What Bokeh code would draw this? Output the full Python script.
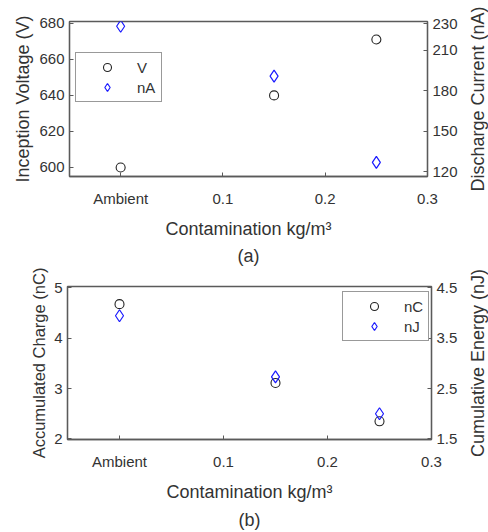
import math
from bokeh.plotting import figure
from bokeh.models import Range1d, LinearAxis, FixedTicker, Legend, LegendItem, Title
from bokeh.layouts import column, row
from bokeh.embed import file_html
from bokeh.resources import INLINE

# ---- data ----
contamination = [0.0, 0.15, 0.25]
x_ticks = [0.0, 0.1, 0.2, 0.3]
x_tick_labels = ["Ambient", "0.1", "0.2", "0.3"]

inception_voltage_V = [600, 640, 671]
discharge_current_nA = [228, 191, 127]
accumulated_charge_nC = [4.67, 3.11, 2.35]
cumulative_energy_nJ = [3.94, 2.73, 2.00]

va_ticks = [600, 620, 640, 660, 680]
ia_ticks = [120, 150, 180, 210, 230]
qb_ticks = [2, 3, 4, 5]
eb_ticks = [1.5, 2.5, 3.5, 4.5]

FONT = "Liberation Sans"
LINE = "#5a5a5a"
TXT = "#333333"
MAIN_W = 460
SIDE_W = 28


def style_axis(ax, ticks, label, overrides=None, label_size="18px"):
    ax.ticker = FixedTicker(ticks=ticks)
    if overrides:
        ax.major_label_overrides = overrides
    if label:
        ax.axis_label = label
    ax.axis_label_text_font = FONT
    ax.axis_label_text_font_size = label_size
    ax.axis_label_text_font_style = "normal"
    ax.axis_label_text_color = TXT
    ax.major_label_text_font = FONT
    ax.major_label_text_font_size = "15px"
    ax.major_label_text_color = TXT
    ax.axis_line_color = LINE
    ax.axis_line_width = 1.3
    ax.major_tick_line_color = LINE
    ax.major_tick_in = 4
    ax.major_tick_out = 0
    ax.minor_tick_line_color = None
    ax.major_label_standoff = 5
    ax.axis_label_standoff = 3


def side_label(height, text, bottom_border):
    # narrow strip whose (tick-less) left axis carries the right-hand title,
    # so that it reads bottom-to-top like the reference
    s = figure(width=SIDE_W, height=height, output_backend="svg", toolbar_location=None,
               x_range=Range1d(0, 1), y_range=Range1d(0, 1), x_axis_type=None,
               min_border_left=SIDE_W - 1, min_border_right=0, min_border_top=0,
               min_border_bottom=bottom_border)
    s.outline_line_color = None
    s.xgrid.visible = False
    s.ygrid.visible = False
    ax = s.yaxis[0]
    ax.ticker = FixedTicker(ticks=[])
    ax.axis_line_color = None
    ax.major_tick_line_color = None
    ax.minor_tick_line_color = None
    ax.axis_label = text
    ax.axis_label_text_font = FONT
    ax.axis_label_text_font_size = "18px"
    ax.axis_label_text_font_style = "normal"
    ax.axis_label_text_color = TXT
    ax.axis_label_standoff = 0
    return s


def make_panel(height, bl, br, bt, bb, yl, yr, yl_ticks, yr_ticks, ylab,
               left_vals, right_vals, left_name, right_name, caption, leg_loc,
               ylab_size, cap_standoff):
    p = figure(width=MAIN_W, height=height, output_backend="svg", toolbar_location=None,
               x_range=Range1d(-0.05, 0.3), y_range=Range1d(*yl),
               min_border_left=bl, min_border_right=br, min_border_top=bt,
               min_border_bottom=bb)
    p.extra_y_ranges = {"r": Range1d(*yr)}
    p.xgrid.visible = False
    p.ygrid.visible = False
    p.outline_line_color = LINE
    p.outline_line_width = 1.3
    p.background_fill_color = "white"
    p.border_fill_color = "white"

    xa = p.xaxis[0]
    style_axis(xa, x_ticks, "Contamination kg/m\u00b3",
               {x_ticks[i]: x_tick_labels[i] for i in range(len(x_ticks))})
    xa.major_label_standoff = 13
    xa.axis_label_standoff = 9
    style_axis(p.yaxis[0], yl_ticks, ylab, label_size=ylab_size)
    rax = LinearAxis(y_range_name="r")
    style_axis(rax, yr_ticks, None)
    p.add_layout(rax, "right")

    r1 = p.scatter(contamination, left_vals, marker="circle", size=9,
                   fill_color=None, line_color="#222222", line_width=1.1)
    r2 = p.scatter(contamination, right_vals, marker="diamond", size=12,
                   fill_color=None, line_color="#1a1aff", line_width=1.2,
                   y_range_name="r")

    leg = Legend(items=[LegendItem(label=left_name, renderers=[r1]),
                        LegendItem(label=right_name, renderers=[r2])],
                 location=leg_loc, orientation="vertical")
    leg.border_line_color = "#333333"
    leg.border_line_width = 1.3
    leg.background_fill_alpha = 1.0
    leg.padding = 4
    leg.spacing = 0
    leg.margin = 0
    leg.glyph_width = 54
    leg.glyph_height = 20
    leg.label_standoff = 3
    leg.label_width = 20
    leg.label_text_font = FONT
    leg.label_text_font_size = "15px"
    leg.label_text_color = TXT
    p.add_layout(leg, "center")

    t = Title(text=caption, align="center", text_font=FONT, text_font_size="18px",
              text_font_style="normal", text_color=TXT, standoff=cap_standoff)
    p.add_layout(t, "below")
    return p


pa = make_panel(268, 69, 30, 21, 85, (595, 681), (116.5, 231.5), va_ticks, ia_ticks,
                "Inception Voltage (V)",
                inception_voltage_V, discharge_current_nA, "V", "nA", "(a)", (6, 74),
                "18px", 5)
pb = make_panel(264, 67, 27, 18, 88, (1.99, 5.02), (1.49, 4.52), qb_ticks, eb_ticks,
                "Accumulated Charge (nC)",
                accumulated_charge_nC, cumulative_energy_nJ, "nC", "nJ", "(b)", (275, 98),
                "16.5px", 6)
sa = side_label(268, "Discharge Current (nA)", 70)
sb = side_label(264, "Cumulative Energy (nJ)", 72)

layout = column(row(pa, sa, spacing=0), row(pb, sb, spacing=0), spacing=0)
open("out.html", "w").write(file_html(layout, INLINE))
